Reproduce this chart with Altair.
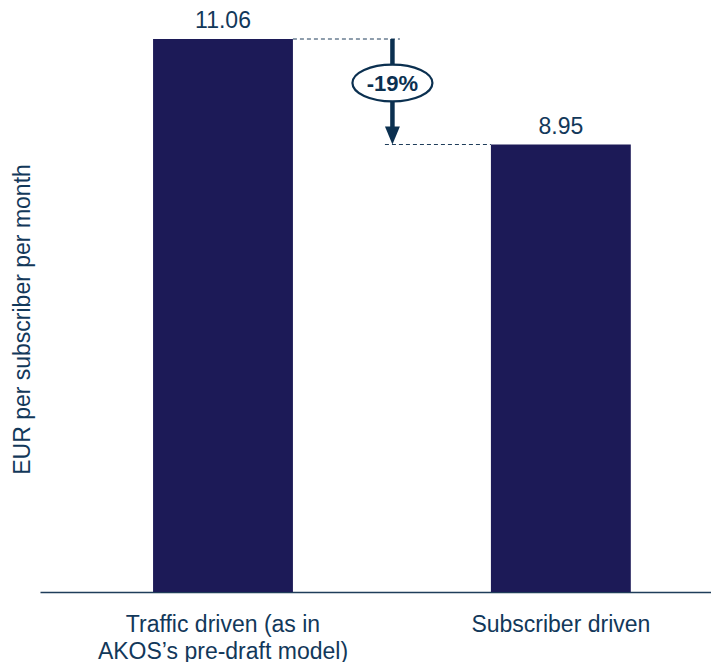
import altair as alt
import pandas as pd

categories = ["Traffic driven (as in|AKOS’s pre-draft model)", "Subscriber driven"]
values = [11.06, 8.95]
value_labels = ["11.06", "8.95"]
change_label = "-19%"
change_label_y = 10.18  # vertical position of the "-19%" badge in data units

BAR = "#1c1a57"
TXT = "#12385a"
ARROW = "#0b3050"
FONT = "Liberation Sans"

df = pd.DataFrame({"cat": categories, "value": values, "label": value_labels})
ann = pd.DataFrame({
    "from_cat": [categories[0]],
    "to_cat": [categories[1]],
    "top": [values[0]],
    "bottom": [values[1]],
    "mid": [change_label_y],
    "label": [change_label],
})

xscale = alt.Scale(domain=categories, paddingInner=0.586, paddingOuter=0.286, align=0.585)
yscale = alt.Scale(domain=[0, 11.24], nice=False, zero=True)

x_axis = alt.Axis(
    title=None, labelAngle=0, ticks=False, domain=True, domainColor="#1f3d5a", domainWidth=1.5,
    labelFontSize=23, labelColor=TXT, labelFont=FONT, labelPadding=21, labelLineHeight=27,
    labelExpr="split(datum.label, '|')", grid=False, labelLimit=0,
)
y_axis = alt.Axis(
    title="EUR per subscriber per month", labels=False, ticks=False, domain=False, grid=False,
    titleFontSize=23, titleFontWeight="normal", titleColor=TXT, titleFont=FONT, titlePadding=6,
    titleY=289,
)

MIDX = 99.5  # pixel offset from right edge of first bar to the arrow

bars = alt.Chart(df).mark_bar(color=BAR).encode(
    x=alt.X("cat:N", scale=xscale, axis=x_axis, sort=categories),
    y=alt.Y("value:Q", scale=yscale, axis=y_axis),
)
text = alt.Chart(df).mark_text(baseline="alphabetic", dy=-11, fontSize=23, font=FONT, color=TXT).encode(
    x=alt.X("cat:N", sort=categories), y="value:Q", text="label:N"
)

dash1 = alt.Chart(ann).mark_rule(strokeDash=[4, 3], strokeWidth=1, color="#1f3d5a", x2Offset=-91).encode(
    x=alt.X("from_cat:N", bandPosition=1),
    x2=alt.X2("to_cat", bandPosition=0),
    y="top:Q",
)
dash2 = alt.Chart(ann).mark_rule(strokeDash=[4, 3], strokeWidth=1, color="#1f3d5a", xOffset=92).encode(
    x=alt.X("from_cat:N", bandPosition=1),
    x2=alt.X2("to_cat", bandPosition=0),
    y="bottom:Q",
)
shaft = alt.Chart(ann).mark_rule(strokeWidth=4.5, color=ARROW, xOffset=MIDX, y2Offset=-10).encode(
    x=alt.X("from_cat:N", bandPosition=1),
    y="top:Q",
    y2=alt.Y2("bottom:Q"),
)
head = alt.Chart(ann).mark_point(
    shape="M -0.83 -2 L 0.83 -2 L 0 0 Z", size=324, filled=True, color=ARROW, opacity=1, xOffset=MIDX
).encode(
    x=alt.X("from_cat:N", bandPosition=1),
    y="bottom:Q",
)
ellipse = alt.Chart(ann).mark_point(
    shape="M -1 0 A 1 0.46 0 1 0 1 0 A 1 0.46 0 1 0 -1 0 Z", size=6400, filled=False,
    fill="white", fillOpacity=1, stroke=ARROW, strokeWidth=2.2, opacity=1, xOffset=MIDX,
).encode(
    x=alt.X("from_cat:N", bandPosition=1),
    y="mid:Q",
)
badge = alt.Chart(ann).mark_text(
    fontSize=22, fontWeight="bold", font=FONT, color=ARROW, baseline="middle", align="center",
    dy=1, dx=MIDX,
).encode(
    x=alt.X("from_cat:N", bandPosition=1),
    y="mid:Q",
    text="label:N",
)

chart = alt.layer(bars, text, dash1, dash2, shaft, head, ellipse, badge).properties(
    width=671, height=562,
    autosize=alt.AutoSizeParams(type="none"),
    padding={"left": 32, "top": 22, "right": 0, "bottom": 70},
).configure(background="white").configure_view(strokeWidth=0, stroke="transparent")

chart.save("out.html", embed_options={"renderer": "svg", "actions": False})
